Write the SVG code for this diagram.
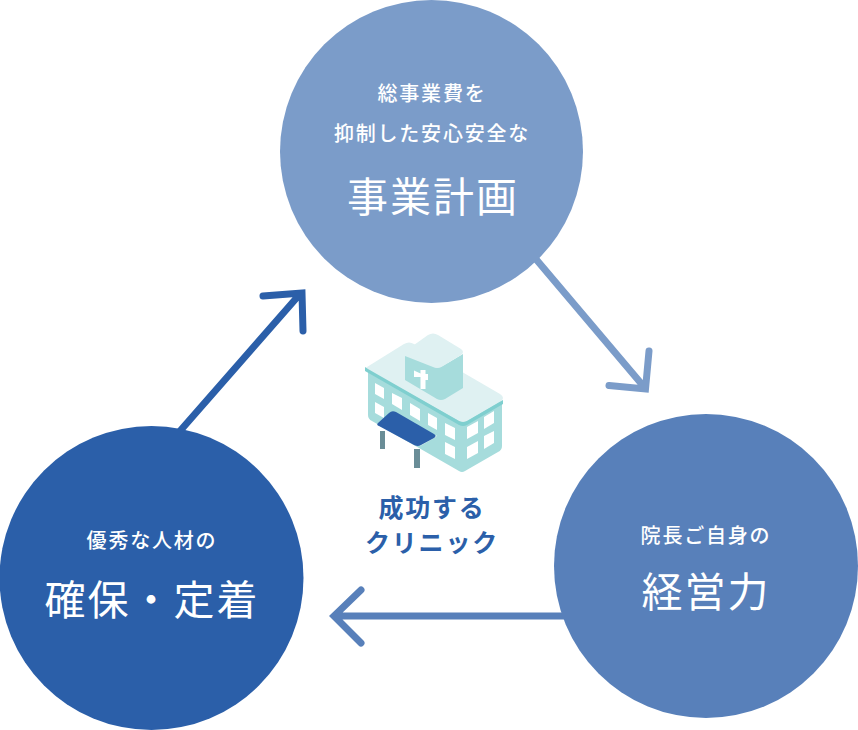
<svg xmlns="http://www.w3.org/2000/svg" width="858" height="730" viewBox="0 0 858 730">
<style>
text{font-family:"Noto Sans CJK JP","Noto Sans CJK SC",sans-serif;fill:#fff;text-anchor:middle}
.s{font-size:20px;letter-spacing:1.8px;font-weight:500}
.b{font-size:41px;letter-spacing:2px;font-weight:400}
.c{font-size:25px;letter-spacing:1.8px;font-weight:700;fill:#2b5fa9}
.a{fill:none;stroke-width:7;stroke-linecap:round;stroke-linejoin:miter}
.w{fill:#fff}
</style>
<g id="connectors">
<path class="a" stroke="#7b9cc9" d="M535 258L645 388M609 385.500L645.500 389L649 351"/>
<path class="a" stroke="#2b5fa9" d="M180 431L300 294M263 296L302 293L303 331"/>
<path class="a" stroke="#5880ba" d="M566 616H336M361 590L334 616L361 643"/>
</g>
<g id="node-plan">
<circle cx="431.500" cy="151.500" r="151.500" fill="#7b9cc9"/>
<text class="s" x="432" y="101">総事業費を</text>
<text class="s" x="432" y="141">抑制した安心安全な</text>
<text class="b" x="433" y="212">事業計画</text>
</g>
<g id="node-power">
<circle cx="706" cy="566" r="152" fill="#5880ba"/>
<text class="s" x="706" y="543">院長ご自身の</text>
<text class="b" x="706" y="607">経営力</text>
</g>
<g id="node-staff">
<circle cx="151.500" cy="578" r="152" fill="#2b5fa9"/>
<text class="s" x="152" y="548">優秀な人材の</text>
<text class="b" x="152" y="615">確保・定着</text>
</g>
<g id="node-clinic">
<path d="M368 372V415Q368 419 372 421L459 471Q462 473 465 471L498 452Q502 450 502 446V402Z" fill="#a6dcdc"/>
<path d="M367 367L404 344Q409 341 414 344L500 394Q506 398 500 402L467 421Q463 423 459 421L368 370Q364 369 367 367Z" fill="#dff1f2"/>
<path d="M365 367V371L459 425Q463 427 467 425L503 404V400L467 421Q463 423 459 421L368 369Z" fill="#7fcfcf"/>
<path d="M405 356V380L437 399Q441 401 445 399L463 388V354L441 367Q437 369 433 367Z" fill="#a6dcdc"/>
<path d="M407 350L428 335Q433 332 438 335L461 349Q465 352 461 355L443 366Q438 369 433 366L408 353Q404 352 407 350Z" fill="#dff1f2"/>
<path class="w" d="M414 370.500V377H420.500V389H425.500V380H428V374H425.500V370H420.500V373.500Z"/>
<g class="w">
<path d="M375 383L384 388V399L375 394Z"/><path d="M375 402L384 407V418L375 413Z"/>
<path d="M392 393L402 398V410L392 404Z"/><path d="M410 403L420 409V421L410 415Z"/>
<path d="M428 413L437 418V430L428 425Z"/><path d="M445 423L455 428V440L445 435Z"/>
<path d="M445 442L455 447V459L445 454Z"/><path d="M467 427L478 421V433L467 439Z"/>
<path d="M484 417L494 411V423L484 429Z"/><path d="M467 447L478 441V453L467 459Z"/>
<path d="M484 436L494 431V443L484 449Z"/>
</g>
<path d="M380 431H385V449H380ZM414 449H420V468H414Z" fill="#6a8d97"/>
<path d="M378 425L414 445Q418 447 422 445L436 437L437 435L422 442Q418 444 414 442L378 423Z" fill="#e2f3f3"/>
<path d="M378 423L389 413Q392 410 396 412L434 434Q437 436 434 438L421 445Q418 447 414 445L379 426Q376 425 378 423Z" fill="#2b5fa9"/>
</g>
<g id="label-clinic">
<text class="c" x="432" y="517">成功する</text>
<text class="c" x="432" y="552">クリニック</text>
</g>
</svg>
